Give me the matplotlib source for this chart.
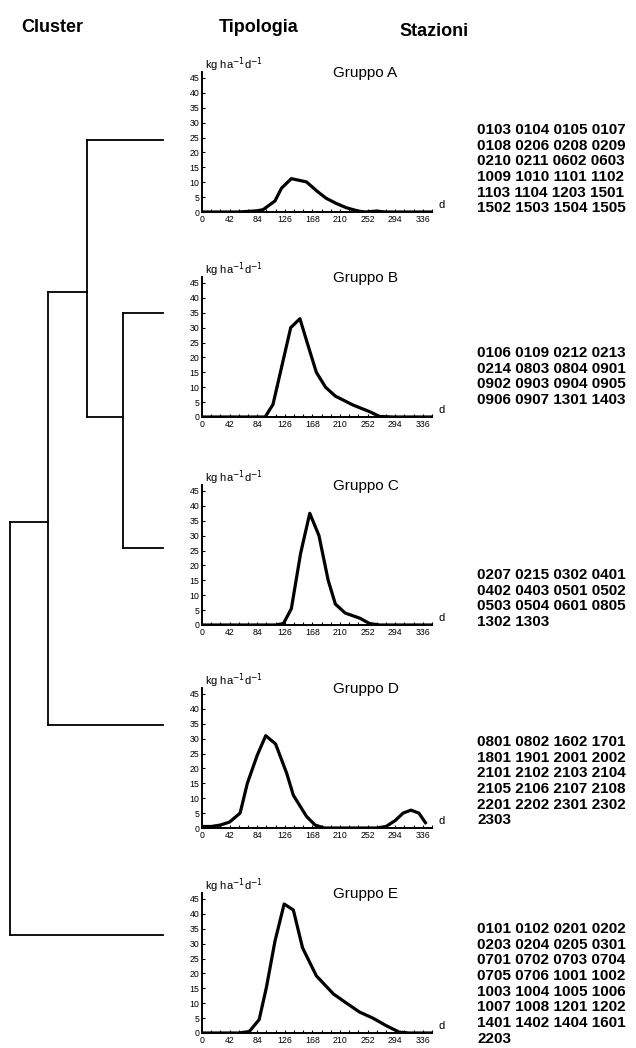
import matplotlib.pyplot as plt
from matplotlib.ticker import MultipleLocator

plt.rcParams['font.family'] = ['Liberation Sans', 'DejaVu Sans']

# --- data ------------------------------------------------------------------
groups = ['A', 'B', 'C', 'D', 'E']

days_a = [0, 14, 28, 42, 56, 70, 84, 93, 111, 121, 136, 159, 175, 189, 205, 220, 238, 248, 265, 280, 300, 350]
load_a = [0, 0, 0, 0, 0, 0.2, 0.4, 0.8, 3.7, 8, 11.2, 10.1, 7, 4.6, 2.8, 1.4, 0.3, 0, 0.3, 0, 0, 0]

days_b = [0, 14, 28, 42, 56, 70, 84, 96, 108, 135, 149, 160, 174, 188, 203, 230, 255, 270, 290, 350]
load_b = [0, 0, 0, 0, 0, 0, 0, 0, 4.2, 30, 33, 25, 15, 10, 7, 4, 1.8, 0.2, 0, 0]

days_c = [0, 14, 28, 42, 56, 70, 84, 98, 112, 124, 136, 150, 164, 178, 192, 203, 218, 240, 255, 270, 350]
load_c = [0, 0, 0, 0, 0, 0, 0, 0, 0, 0.5, 5.5, 24, 37.5, 30, 15, 7, 4, 2.3, 0.5, 0, 0]

days_d = [0, 14, 28, 42, 58, 69, 84, 97, 112, 129, 139, 159, 172, 186, 266, 280, 294, 306, 318, 330, 340]
load_d = [0.5, 0.5, 1, 2, 5, 15, 24.4, 31, 28.2, 18.3, 11, 3.9, 1, 0, 0, 0.5, 2.5, 5, 6, 5, 1.8]

days_e = [0, 14, 28, 42, 56, 72, 87, 98, 111, 125, 139, 153, 174, 200, 220, 240, 260, 280, 300, 315, 350]
load_e = [0, 0, 0, 0, 0, 0.5, 4.5, 15.3, 30.8, 43.3, 41.3, 28.6, 19.2, 13.1, 10, 7, 5, 2.5, 0.3, 0, 0]

stations_a = ['0103', '0104', '0105', '0107', '0108', '0206', '0208', '0209',
              '0210', '0211', '0602', '0603', '1009', '1010', '1101', '1102',
              '1103', '1104', '1203', '1501', '1502', '1503', '1504', '1505']
stations_b = ['0106', '0109', '0212', '0213', '0214', '0803', '0804', '0901',
              '0902', '0903', '0904', '0905', '0906', '0907', '1301', '1403']
stations_c = ['0207', '0215', '0302', '0401', '0402', '0403', '0501', '0502',
              '0503', '0504', '0601', '0805', '1302', '1303']
stations_d = ['0801', '0802', '1602', '1701', '1801', '1901', '2001', '2002',
              '2101', '2102', '2103', '2104', '2105', '2106', '2107', '2108',
              '2201', '2202', '2301', '2302', '2303']
stations_e = ['0101', '0102', '0201', '0202', '0203', '0204', '0205', '0301',
              '0701', '0702', '0703', '0704', '0705', '0706', '1001', '1002',
              '1003', '1004', '1005', '1006', '1007', '1008', '1201', '1202',
              '1401', '1402', '1404', '1601', '2203']

# dendrogram: merges (child1, child2) and merge distance (arbitrary units)
merges = [('B', 'C'), ('A', 'BC'), ('ABC', 'D'), ('ABCD', 'E')]
merge_dist = [40, 76, 115, 153]

days = [days_a, days_b, days_c, days_d, days_e]
loads = [load_a, load_b, load_c, load_d, load_e]
stations = [stations_a, stations_b, stations_c, stations_d, stations_e]

# --- layout (pixels) -------------------------------------------------------
W, H = 636, 1048
panel_bottom = [212, 417, 625, 828, 1033]
panel_left, panel_w, panel_h = 202, 230, 140
leaf_y = {'A': 140, 'B': 313, 'C': 548, 'D': 725, 'E': 935}
node_y = [417, 292, 522, 728]
leaf_x = 163
station_top = [123, 346, 568, 735, 922]

fig = plt.figure(figsize=(W / 100, H / 100), dpi=100)
bg = fig.add_axes([0, 0, 1, 1])
bg.set_xlim(0, W)
bg.set_ylim(H, 0)
bg.axis('off')

# headers
bg.text(52, 28, 'Cluster', ha='center', va='center', fontsize=13, fontweight='bold')
bg.text(259, 27, 'Tipologia', ha='center', va='center', fontsize=13, fontweight='bold')
bg.text(434, 31, 'Stazioni', ha='center', va='center', fontsize=13, fontweight='bold')

# dendrogram
pos = {g: (leaf_x, leaf_y[g]) for g in groups}
for (c1, c2), d, ny in zip(merges, merge_dist, node_y):
    nx = leaf_x - d
    for c in (c1, c2):
        cx, cy = pos[c]
        bg.plot([cx, nx], [cy, cy], color='black', lw=1.3)
    bg.plot([nx, nx], [pos[c1][1], pos[c2][1]], color='black', lw=1.3)
    pos[c1 + c2] = (nx, ny)

# panels
for i, g in enumerate(groups):
    ax = fig.add_axes([panel_left / W, 1 - panel_bottom[i] / H, panel_w / W, panel_h / H])
    ax.plot(days[i], loads[i], color='black', lw=2.3, solid_joinstyle='round')
    ax.set_xlim(0, 350)
    ax.set_ylim(0, 47)
    ax.set_xticks(range(0, 337, 42))
    ax.xaxis.set_minor_locator(MultipleLocator(14))
    ax.set_yticks(range(0, 46, 5))
    ax.tick_params(direction='in', length=2.5, width=0.8, labelsize=6.3, pad=2)
    ax.tick_params(which='minor', direction='in', length=2, width=0.8)
    for s in ['top', 'right']:
        ax.spines[s].set_visible(False)
    for s in ['left', 'bottom']:
        ax.spines[s].set_linewidth(1.4)
    ax.patch.set_alpha(0)
    ax.text(0.015, 1.05, r'kg ha$^{-1}$d$^{-1}$', transform=ax.transAxes,
            fontsize=8, va='center', ha='left')
    ax.text(0.57, 0.99, 'Gruppo ' + g, transform=ax.transAxes,
            fontsize=11, va='center', ha='left')
    ax.text(1.03, 0.05, 'd', transform=ax.transAxes, fontsize=8,
            va='center', ha='left')

    rows = [' '.join(stations[i][k:k + 4]) for k in range(0, len(stations[i]), 4)]
    bg.text(477, station_top[i], '\n'.join(rows), ha='left', va='top',
            fontsize=11, fontweight='bold', linespacing=1.15)

fig.savefig('out.png', dpi=100)
